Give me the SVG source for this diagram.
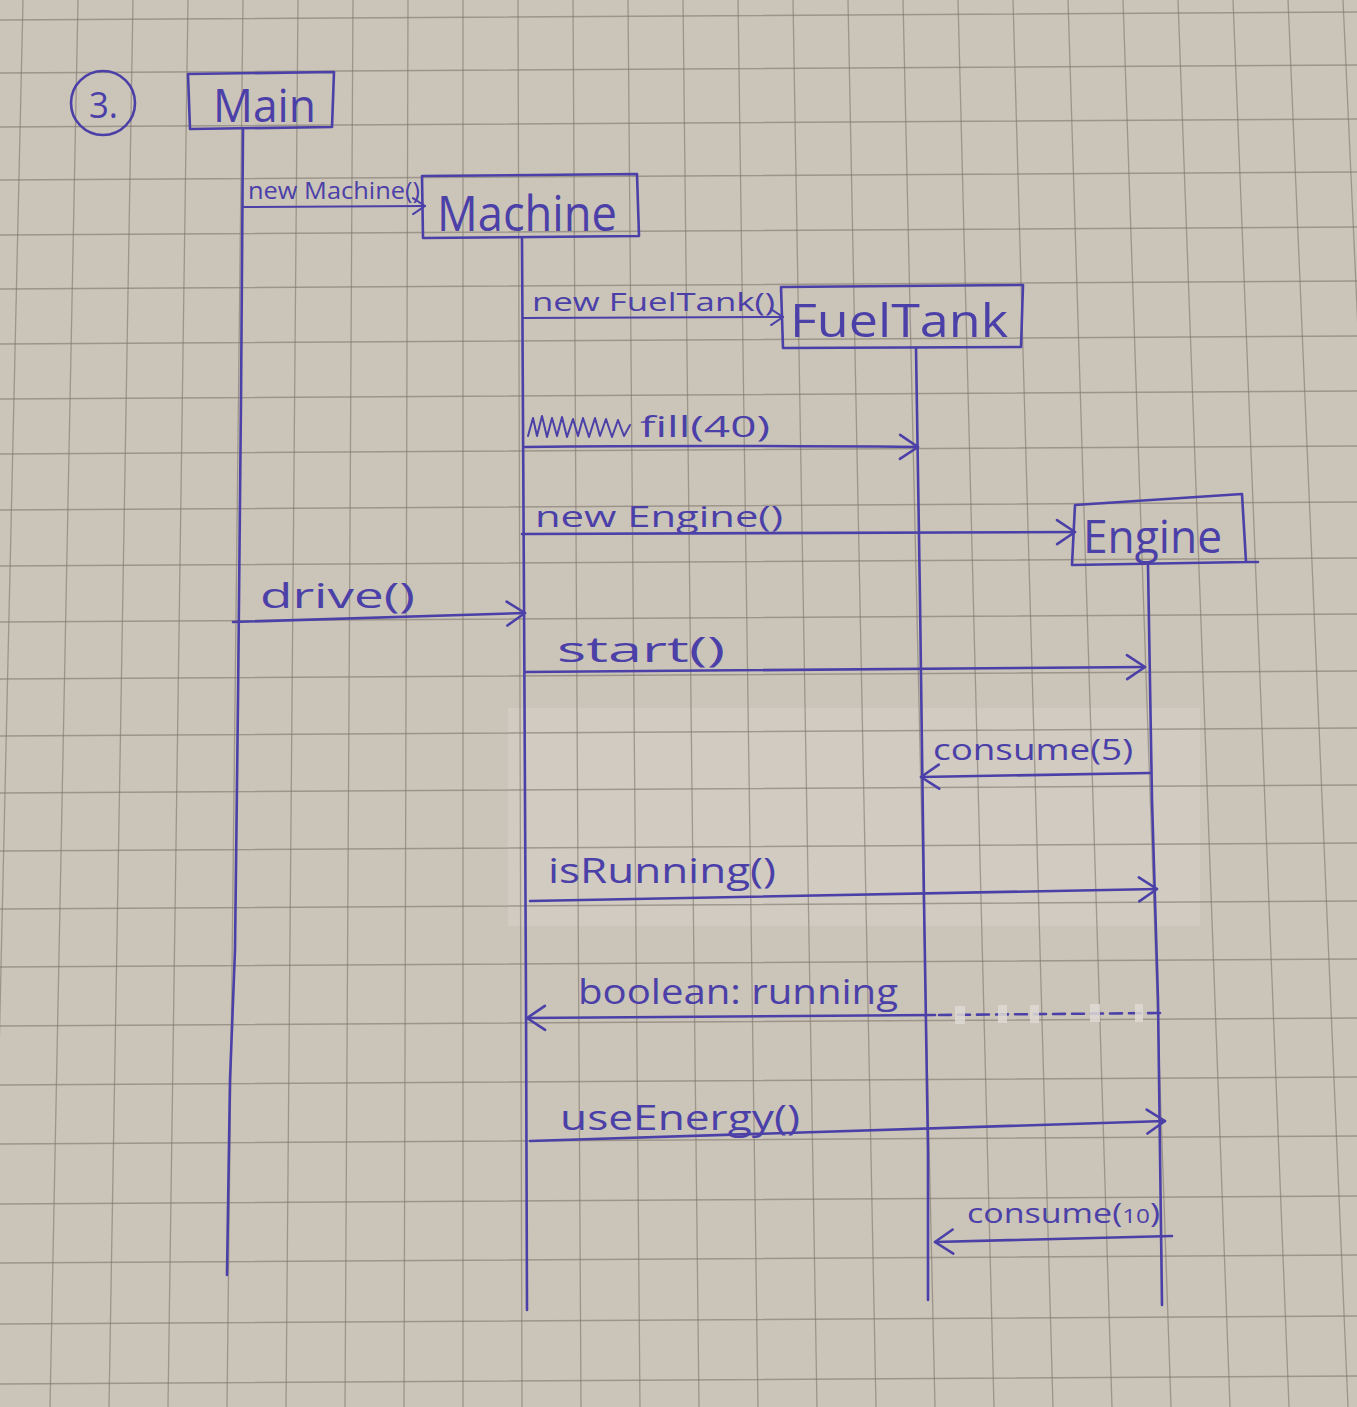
<svg xmlns="http://www.w3.org/2000/svg" width="1357" height="1407" viewBox="0 0 1357 1407">
<style>
.ink{fill:none;stroke:#4b40a8;stroke-width:2.6;stroke-linecap:round;stroke-linejoin:round}
.thin{stroke-width:2}
.t{font-family:"Open Sans","Liberation Sans",sans-serif;fill:#4b40a8}
.grid{fill:none;stroke:#7f766a;stroke-width:1.3;opacity:0.6}
</style>
<defs>
<marker id="open" viewBox="-3 -15 24 30" refX="18" refY="0" markerWidth="24" markerHeight="30" markerUnits="userSpaceOnUse" orient="auto">
<path d="M0,-12 L18,0 L0,12" fill="none" stroke="#4b40a8" stroke-width="2.6" stroke-linecap="round" stroke-linejoin="round"/>
</marker>
<marker id="openSmall" viewBox="-3 -10 16 20" refX="12" refY="0" markerWidth="16" markerHeight="20" markerUnits="userSpaceOnUse" orient="auto">
<path d="M0,-8 L12,0 L0,8" fill="none" stroke="#4b40a8" stroke-width="2" stroke-linecap="round" stroke-linejoin="round"/>
</marker>
</defs>

<!-- paper -->
<rect x="0" y="0" width="1357" height="1407" fill="#cbc4b9"/>
<rect x="508" y="708" width="692" height="218" fill="#d1cbc2"/>
<path class="grid" d="M23,0 L-9,1407 M78,0 L50,1407 M133,0 L109,1407 M188,0 L168,1407 M243,0 L227,1407 M298,0 L286,1407 M353,0 L345,1407 M408,0 L404,1407 M463,0 L463,1407 M518,0 L522,1407 M573,0 L581,1407 M628,0 L640,1407 M683,0 L699,1407 M738,0 L758,1407 M793,0 L817,1407 M848,0 L876,1407 M903,0 L935,1407 M958,0 L994,1407 M1013,0 L1053,1407 M1068,0 L1112,1407 M1123,0 L1171,1407 M1178,0 L1230,1407 M1233,0 L1289,1407 M1288,0 L1348,1407 M1343,0 L1407,1407"/>
<path class="grid" d="M0,20 L1357,12 M0,73 L1357,65 M0,127 L1357,119 M0,180 L1357,172 M0,235 L1357,227 M0,289 L1357,281 M0,344 L1357,336 M0,399 L1357,391 M0,454 L1357,446 M0,510 L1357,502 M0,566 L1357,558 M0,622 L1357,614 M0,679 L1357,671 M0,736 L1357,728 M0,793 L1357,785 M0,851 L1357,843 M0,909 L1357,901 M0,967 L1357,959 M0,1026 L1357,1018 M0,1085 L1357,1077 M0,1144 L1357,1136 M0,1204 L1357,1196 M0,1263 L1357,1255 M0,1324 L1357,1316 M0,1384 L1357,1376"/>

<!-- number -->
<g id="number">
<circle class="ink" cx="103" cy="103" r="32" stroke-width="2.2"/>
<text class="t" x="89" y="118" font-size="36" textLength="29" lengthAdjust="spacingAndGlyphs">3.</text>
</g>

<!-- nodes -->
<g id="node-main">
<path class="ink" d="M188,74 L334,72 L332,127 L190,129 Z"/>
<text class="t" x="213" y="122" font-size="46" textLength="103" lengthAdjust="spacingAndGlyphs">Main</text>
<path class="ink" d="M243,129 L241,400 L238,700 L235,950 L230,1080 L227,1275"/>
</g>

<g id="node-machine">
<path class="ink" d="M422,176 L637,174 L639,236 L423,238 Z"/>
<text class="t" x="437" y="231" font-size="50" textLength="180" lengthAdjust="spacingAndGlyphs">Machine</text>
<path class="ink" d="M522,238 L524,600 L526,1000 L527,1310"/>
</g>

<g id="node-fueltank">
<path class="ink" d="M781,287 L1023,285 L1021,347 L783,348 Z"/>
<text class="t" x="790" y="337" font-size="46" textLength="218" lengthAdjust="spacingAndGlyphs">FuelTank</text>
<path class="ink" d="M916,348 L920,600 L924,900 L928,1150 L928,1300"/>
</g>

<g id="node-engine">
<path class="ink" d="M1075,505 L1242,494 L1246,562 L1072,565 Z M1246,562 L1258,562"/>
<text class="t" x="1083" y="553" font-size="46" textLength="139" lengthAdjust="spacingAndGlyphs">Engine</text>
<path class="ink" d="M1148,565 L1152,800 L1158,1000 L1162,1305"/>
</g>

<!-- connectors -->
<g id="connectors">
<path class="ink thin" d="M243,207 L425,206" marker-end="url(#openSmall)"/>
<path class="ink thin" d="M523,318 L783,317" marker-end="url(#openSmall)"/>
<path class="ink" d="M525,447 Q700,445 918,447" marker-end="url(#open)"/>
<path class="ink" d="M522,534 L1075,532" marker-end="url(#open)"/>
<path class="ink" d="M233,622 L525,613" marker-end="url(#open)"/>
<path class="ink" d="M525,672 L1145,667" marker-end="url(#open)"/>
<path class="ink" d="M1150,773 L921,777" marker-end="url(#open)"/>
<path class="ink" d="M530,901 L1157,889" marker-end="url(#open)"/>
<path class="ink" d="M1160,1013 L935,1015" stroke-dasharray="12,7"/>
<path class="ink" d="M935,1015 L527,1018" marker-end="url(#open)"/>
<path class="ink" d="M530,1141 L1165,1121" marker-end="url(#open)"/>
<path class="ink" d="M1172,1236 L935,1242" marker-end="url(#open)"/>
<!-- tape pieces over dashed return -->
<g fill="#dedad3" opacity="0.85">
<rect x="955" y="1006" width="10" height="18"/>
<rect x="998" y="1005" width="9" height="18"/>
<rect x="1030" y="1005" width="9" height="18"/>
<rect x="1090" y="1004" width="10" height="18"/>
<rect x="1135" y="1004" width="8" height="18"/>
</g>
</g>

<!-- message labels -->
<g id="labels">
<text class="t" x="248" y="199" font-size="23" textLength="172" lengthAdjust="spacingAndGlyphs">new Machine()</text>
<text class="t" x="532" y="311" font-size="25" textLength="243" lengthAdjust="spacingAndGlyphs">new FuelTank()</text>
<path class="ink thin" d="M528,436 L533,418 L537,436 L542,416 L547,437 L552,418 L557,436 L562,417 L567,437 L573,419 L578,436 L583,418 L589,437 L595,418 L600,436 L606,419 L612,437 L618,420 L624,436 L630,425"/>
<text class="t" x="640" y="437" font-size="30" textLength="130" lengthAdjust="spacingAndGlyphs">fill(40)</text>
<text class="t" x="535" y="527" font-size="30" textLength="248" lengthAdjust="spacingAndGlyphs">new Engine()</text>
<text class="t" x="260" y="608" font-size="35" textLength="155" lengthAdjust="spacingAndGlyphs">drive()</text>
<text class="t" x="557" y="662" font-size="35" textLength="168" lengthAdjust="spacingAndGlyphs">start()</text>
<text class="t" x="933" y="760" font-size="30" textLength="200" lengthAdjust="spacingAndGlyphs">consume(5)</text>
<text class="t" x="548" y="883" font-size="35" textLength="228" lengthAdjust="spacingAndGlyphs">isRunning()</text>
<text class="t" x="578" y="1004" font-size="35" textLength="320" lengthAdjust="spacingAndGlyphs">boolean: running</text>
<text class="t" x="560" y="1130" font-size="35" textLength="240" lengthAdjust="spacingAndGlyphs">useEnergy()</text>
<text class="t" x="967" y="1223" font-size="28" textLength="193" lengthAdjust="spacingAndGlyphs">consume(<tspan font-size="20">10</tspan>)</text>
</g>
</svg>
